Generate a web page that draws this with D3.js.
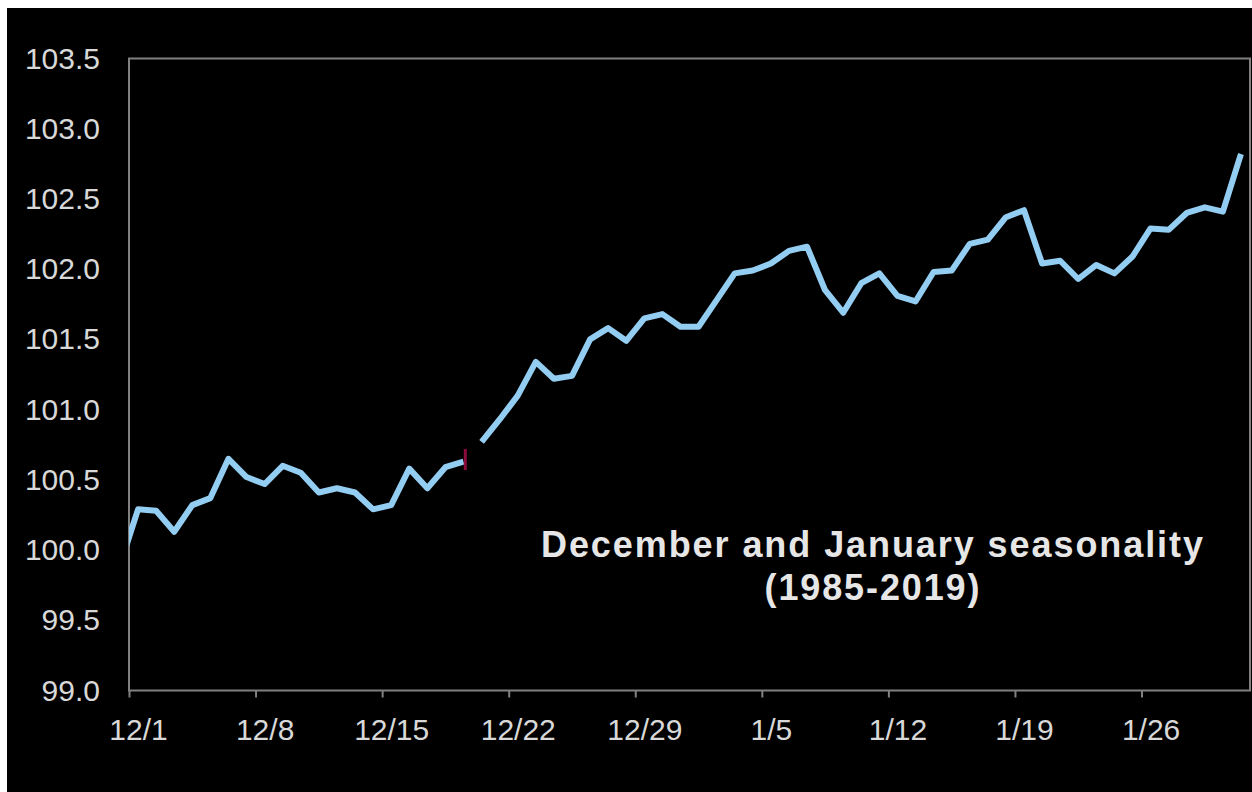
<!DOCTYPE html>
<html><head><meta charset="utf-8">
<script src="https://cdn.jsdelivr.net/npm/d3@7"></script>
<style>html,body{margin:0;padding:0;background:#fff;} svg{display:block}</style>
</head><body><svg id="c" width="1252" height="792"></svg>
<script>
// ---- data ----
const tickLabels = ["12/1","12/8","12/15","12/22","12/29","1/5","1/12","1/19","1/26"];
const tickDays = [0,7,14,21,28,35,42,49,56];
const yTicks = [99.0,99.5,100.0,100.5,101.0,101.5,102.0,102.5,103.0,103.5];
const prevDayValue = 99.89; // 11/30, clipped at the axis
const values = [
  100.29,100.28,100.13,100.32,100.37,100.65,100.52,100.47,100.60,100.55,
  100.41,100.44,100.41,100.29,100.32,100.58,100.44,100.59,100.63,100.77,
  100.93,101.10,101.34,101.22,101.24,101.50,101.58,101.49,101.65,101.68,
  101.59,101.59,101.78,101.97,101.99,102.04,102.13,102.16,101.85,101.69,
  101.90,101.97,101.81,101.77,101.98,101.99,102.18,102.21,102.37,102.42,
  102.04,102.06,101.93,102.03,101.97,102.09,102.29,102.28,102.40,102.44,
  102.41,102.82
];
const breakAfterDay = 18;
const markDay = 18.6, markRange = [100.57, 100.72];
const titleLines = ["December and January seasonality","(1985-2019)"];

// ---- chart ----
const W = 1252, H = 792;
const svg = d3.select("#c");
svg.append("rect").attr("x",7).attr("y",8).attr("width",W-7).attr("height",H-8).attr("fill","#000");

const m = {l:129, t:58.5, r:1250, b:690.5};
const x = d3.scaleLinear().domain([0,62]).range([m.l,m.r]);
const y = d3.scaleLinear().domain([99,103.5]).range([m.b,m.t]);
const font = "'Liberation Sans', Arial, sans-serif";
const axisColor = "#808080";
const labelColor = "#d8d8d8";

// y axis labels
const gy = svg.append("g").attr("transform",`translate(${m.l},0)`)
  .call(d3.axisLeft(y).tickValues(yTicks).tickSize(0).tickPadding(29).tickFormat(d3.format(".1f")));
gy.select(".domain").remove();
gy.selectAll("text").attr("fill",labelColor).style("font-family",font).style("font-size","30px");

// x axis
const half = x(0.5) - x(0);
const gx = svg.append("g").attr("transform",`translate(0,${m.b})`)
  .call(d3.axisBottom(x).tickValues(tickDays).tickSize(7).tickFormat((d,i)=>tickLabels[i]));
gx.select(".domain").remove();
gx.selectAll(".tick line").attr("stroke",axisColor).attr("stroke-width",2);
gx.selectAll("text").attr("fill",labelColor).style("font-family",font).style("font-size","30px")
  .attr("x",half).attr("y",49).attr("dy",0);

// frame
svg.append("rect").attr("x",m.l).attr("y",m.t).attr("width",m.r-m.l).attr("height",m.b-m.t)
  .attr("fill","none").attr("stroke",axisColor).attr("stroke-width",2);

// clip
svg.append("clipPath").attr("id","plotclip").append("rect")
  .attr("x",m.l).attr("y",m.t).attr("width",m.r-m.l).attr("height",m.b-m.t);

// line data
const pts = [{day:-0.5, v:prevDayValue}];
values.forEach((v,i)=>{
  pts.push({day:i+0.5, v:v});
  if (i === breakAfterDay) pts.push({day:i+1, v:null});
});
const line = d3.line().defined(d=>d.v!=null).x(d=>x(d.day)).y(d=>y(d.v));
svg.append("path").datum(pts).attr("d",line).attr("clip-path","url(#plotclip)")
  .attr("fill","none").attr("stroke","#93cdf2").attr("stroke-width",6)
  .attr("stroke-linejoin","round").attr("stroke-linecap","butt");

// small mark
svg.append("line").attr("x1",x(markDay)).attr("x2",x(markDay))
  .attr("y1",y(markRange[0])).attr("y2",y(markRange[1]))
  .attr("stroke","#8a0c3c").attr("stroke-width",3);

// title
const tx = 872;
const tl = svg.append("text").attr("fill","#e6e6e6").style("font-family",font)
  .style("font-size","36px").style("font-weight","bold").attr("text-anchor","middle");
tl.append("tspan").attr("x",tx).attr("y",557).attr("textLength",662).attr("lengthAdjust","spacing").text(titleLines[0]);
tl.append("tspan").attr("x",tx).attr("y",600).attr("textLength",215).attr("lengthAdjust","spacing").text(titleLines[1]);
</script>
</body></html>
